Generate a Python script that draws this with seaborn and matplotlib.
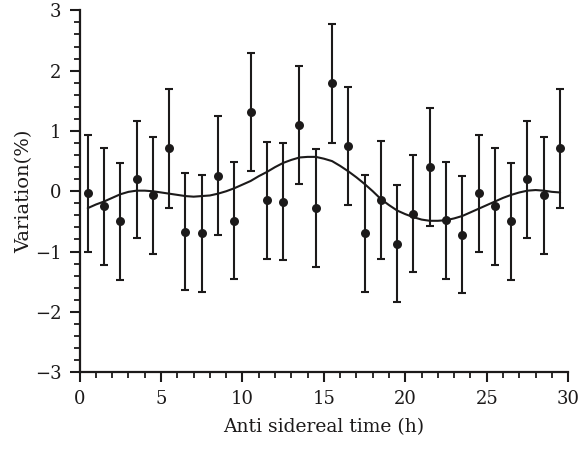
import matplotlib
matplotlib.use("Agg")
import matplotlib.pyplot as plt
import seaborn as sns
import numpy as np
import pandas as pd
from matplotlib.ticker import MultipleLocator

# data (24 h periodic, repeated to 29.5 h)
hours = [0.5, 1.5, 2.5, 3.5, 4.5, 5.5, 6.5, 7.5, 8.5, 9.5, 10.5, 11.5,
         12.5, 13.5, 14.5, 15.5, 16.5, 17.5, 18.5, 19.5, 20.5, 21.5, 22.5, 23.5,
         24.5, 25.5, 26.5, 27.5, 28.5, 29.5]
variation = [-0.03, -0.25, -0.50, 0.20, -0.07, 0.71, -0.67, -0.70, 0.26, -0.49, 1.31, -0.15,
             -0.17, 1.10, -0.28, 1.79, 0.75, -0.70, -0.15, -0.87, -0.37, 0.40, -0.48, -0.72,
             -0.03, -0.25, -0.50, 0.20, -0.07, 0.71]
error = [0.97, 0.97, 0.97, 0.97, 0.97, 0.98, 0.97, 0.97, 0.98, 0.97, 0.98, 0.97,
         0.97, 0.98, 0.98, 0.99, 0.98, 0.97, 0.98, 0.97, 0.97, 0.98, 0.97, 0.97,
         0.97, 0.97, 0.97, 0.97, 0.97, 0.98]

# fitted curve
fit_hours = [0.5, 1.0, 1.5, 2.0, 2.5, 3.0, 3.5, 4.0, 4.5, 5.0, 5.5, 6.0, 6.5, 7.0, 7.5,
             8.0, 8.5, 9.0, 9.5, 10.0, 10.5, 11.0, 11.5, 12.0, 12.5, 13.0, 13.5, 14.0,
             14.5, 15.0, 15.5, 16.0, 16.5, 17.0, 17.5, 18.0, 18.5, 19.0, 19.5, 20.0,
             20.5, 21.0, 21.5, 22.0, 22.5, 23.0, 23.5, 24.0, 24.5, 25.0, 25.5, 26.0,
             26.5, 27.0, 27.5, 28.0, 28.5, 29.0, 29.5]
fit_values = [-0.28, -0.22, -0.17, -0.11, -0.05, -0.01, 0.01, 0.01, 0.00, -0.02, -0.04,
              -0.06, -0.08, -0.09, -0.08, -0.07, -0.04, 0.00, 0.05, 0.11, 0.17, 0.25, 0.32,
              0.40, 0.47, 0.52, 0.56, 0.57, 0.57, 0.54, 0.50, 0.42, 0.33, 0.23, 0.12, 0.00,
              -0.13, -0.23, -0.32, -0.38, -0.43, -0.47, -0.49, -0.49, -0.48, -0.45, -0.41,
              -0.35, -0.29, -0.23, -0.17, -0.11, -0.06, -0.02, 0.01, 0.02, 0.01, -0.01, -0.02]

df = pd.DataFrame({"hour": hours, "var": variation, "err": error})
fit = pd.DataFrame({"hour": fit_hours, "val": fit_values})

sns.set_style("ticks")
plt.rcParams['font.family'] = ['DejaVu Serif']
ink = "#1c1a1a"

fig = plt.figure(figsize=(5.81, 4.5), dpi=100)
ax = fig.add_axes([0.137, 0.173, 0.841, 0.804])

ax.errorbar(df["hour"], df["var"], yerr=df["err"], fmt="none", ecolor=ink,
            elinewidth=1.5, capsize=3.0, capthick=1.5, zorder=2)
sns.lineplot(data=fit, x="hour", y="val", ax=ax, color=ink, linewidth=1.5, zorder=3)
sns.scatterplot(data=df, x="hour", y="var", ax=ax, color=ink, s=42, edgecolor=ink,
                linewidth=0, zorder=4)

ax.set_xlim(0, 30)
ax.set_ylim(-3, 3)
ax.xaxis.set_major_locator(MultipleLocator(5))
ax.xaxis.set_minor_locator(MultipleLocator(1))
ax.yaxis.set_major_locator(MultipleLocator(1))
ax.yaxis.set_minor_locator(MultipleLocator(0.2))
ax.tick_params(which="major", length=7, width=1.5, colors=ink, labelsize=13, pad=6)
ax.tick_params(which="minor", length=4, width=1.3, colors=ink)
ax.set_yticks([-3, -2, -1, 0, 1, 2, 3])
ax.set_yticklabels(["\u22123", "\u22122", "\u22121", "0", "1", "2", "3"])

for s in ["top", "right"]:
    ax.spines[s].set_visible(False)
for s in ["left", "bottom"]:
    ax.spines[s].set_linewidth(1.6)
    ax.spines[s].set_color(ink)

ax.set_xlabel("Anti sidereal time (h)", fontsize=13.5, color=ink, labelpad=7)
ax.set_ylabel("Variation(%)", fontsize=14, color=ink, labelpad=1)

fig.savefig("out.png", dpi=100)
